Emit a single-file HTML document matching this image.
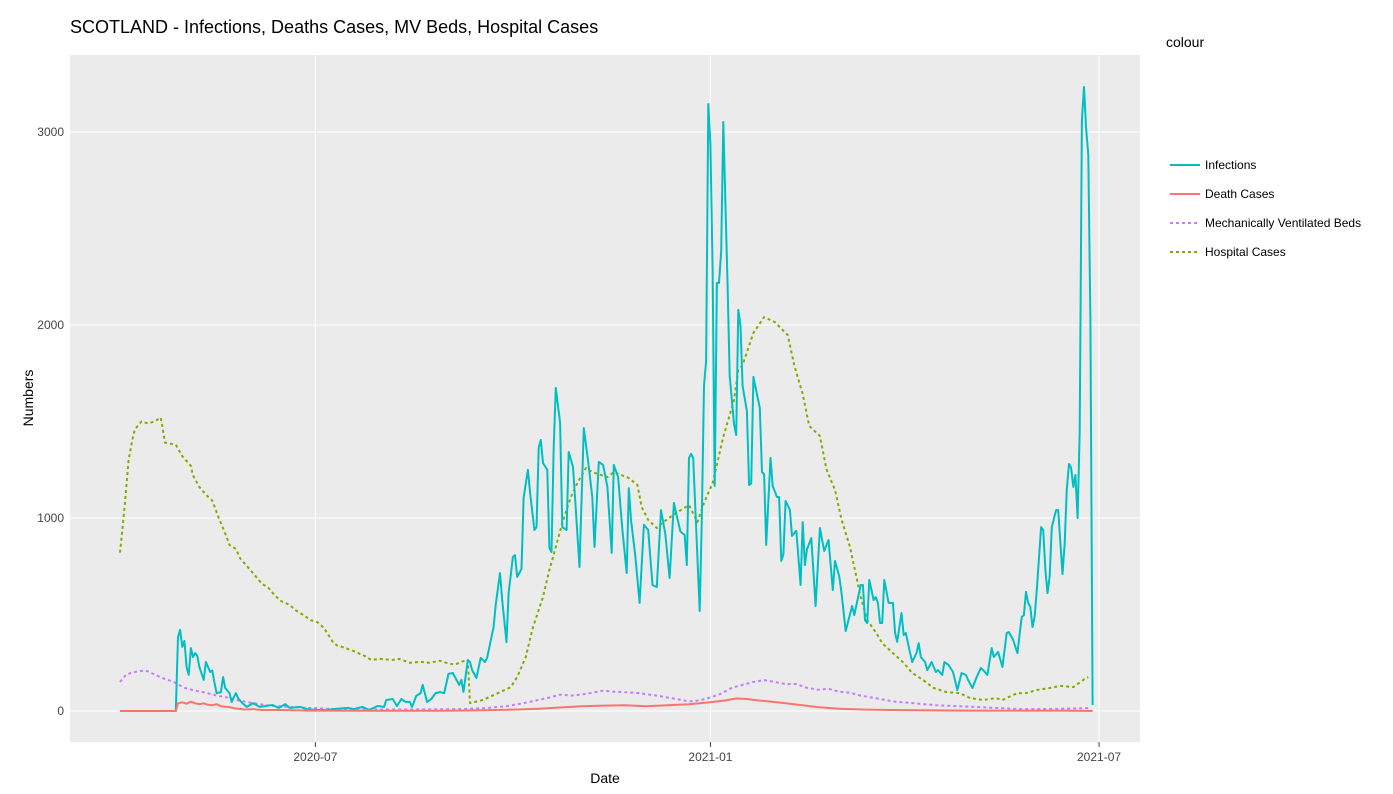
<!DOCTYPE html>
<html><head><meta charset="utf-8">
<style>
body{margin:0;background:#fff;font-family:"Liberation Sans",sans-serif;}
svg{display:block}
text{font-family:"Liberation Sans",sans-serif;}
</style></head>
<body>
<svg id="chart" width="1393" height="794" xmlns="http://www.w3.org/2000/svg">
<text x="70" y="33" font-size="18" fill="#000">SCOTLAND - Infections, Deaths Cases, MV Beds, Hospital Cases</text>
<rect x="70" y="55" width="1070" height="687" fill="#ebebeb"/>
<g id="grid"></g>
<g id="series"></g>
<g id="axes"></g>
<text x="605" y="783" font-size="14" text-anchor="middle" fill="#000">Date</text>
<text x="33" y="398" font-size="14" text-anchor="middle" fill="#000" transform="rotate(-90 33 398)">Numbers</text>
<text x="1166" y="47" font-size="14" fill="#000">colour</text>
<g id="legend"></g>
</svg>
<script>
const yTicks = [0, 1000, 2000, 3000];
const xTickDays = [91, 275, 456];
const xTickLabels = ["2020-07", "2021-01", "2021-07"];
const seriesNames = ["Infections", "Death Cases", "Mechanically Ventilated Beds", "Hospital Cases"];
// days since 2020-04-01
const infDays = [0,26,27,28,29,30,31,32,33,34,35,36,37,39,40,42,43,44,45,47,48,49,51,52,54,55,57,59,62,65,68,71,74,77,79,84,87,92,96,99,106,109,113,116,120,123,124,127,129,131,133,135,136,138,140,141,143,145,147,149,151,153,155,158,159,160,162,163,164,166,168,170,171,174,175,177,178,180,181,183,184,185,187,188,190,191,193,194,195,196,197,199,200,201,202,203,205,206,208,209,211,212,214,216,218,220,221,223,225,227,229,230,232,234,236,237,238,240,242,244,246,248,250,252,254,256,258,259,261,263,264,265,266,267,270,271,272,273,274,275,276,277,278,279,280,281,283,284,286,287,288,289,290,292,293,294,295,298,299,300,301,303,304,306,307,308,309,310,312,313,315,317,318,319,320,322,324,326,328,330,332,333,335,336,338,341,342,345,346,347,348,349,351,352,353,354,355,356,358,360,361,362,364,365,366,368,369,371,372,373,375,376,378,380,381,383,384,386,388,390,392,394,395,397,399,401,402,404,406,407,409,411,413,414,416,418,420,421,422,423,424,425,426,427,429,430,431,432,433,434,436,437,438,439,440,441,442,443,444,445,446,447,448,449,450,451,452,453];
const infVals = [0,0,383,420,332,363,228,187,326,280,300,285,228,161,254,202,210,145,93,98,176,119,93,47,93,67,41,21,41,21,26,31,16,36,16,21,10,5,5,10,16,10,21,5,26,21,57,62,26,62,47,47,21,78,93,135,47,62,93,98,93,192,197,135,161,99,264,254,212,171,275,254,275,435,549,715,575,357,611,798,808,695,736,1104,1249,1130,938,953,1363,1404,1285,1249,845,824,1368,1674,1492,953,938,1342,1265,1093,746,1466,1300,1109,850,1290,1275,1161,819,1275,1212,938,715,1155,990,803,560,964,938,653,642,1041,917,689,1078,1026,930,912,756,1311,1332,1311,518,995,1684,1813,3145,2938,2290,1166,2218,2218,2383,3052,2202,1736,1487,1430,2078,1995,1684,1554,1171,1180,1731,1570,1238,1228,860,1311,1166,1109,1109,777,813,1088,1042,907,933,653,979,756,839,896,544,948,829,886,627,777,699,617,414,544,497,653,653,471,456,679,575,590,560,456,456,679,560,560,404,358,508,394,404,300,254,300,352,280,254,212,254,202,212,187,254,238,202,109,197,187,161,119,176,223,212,187,326,280,306,228,404,409,368,300,487,497,617,560,540,435,487,627,953,938,731,611,700,953,1041,1041,870,710,870,1150,1280,1261,1161,1223,1000,1451,3062,3233,3021,2881,2031,31];
const deathDays = [0,26,27,29,31,33,35,37,39,41,43,45,47,49,51,53,55,58,62,66,75,90,120,150,165,175,185,195,205,215,225,235,245,255,265,275,282,287,292,297,302,310,318,325,335,345,360,380,400,420,440,453];
const deathVals = [0,0,40,45,38,48,40,35,40,32,30,35,25,22,20,15,12,8,10,5,5,2,1,1,3,5,8,12,18,25,28,30,25,30,35,45,55,65,62,55,50,40,30,20,12,8,5,3,2,2,2,0];
const mvDays = [0,3,8,12,15,20,25,30,35,40,45,50,55,60,65,70,80,90,100,120,140,160,170,180,190,200,205,210,215,220,225,230,240,250,260,265,270,275,280,285,290,295,300,305,310,315,320,325,330,335,340,345,350,355,360,370,380,390,400,410,420,430,440,451];
const mvVals = [150,190,205,210,195,170,150,120,105,95,80,70,55,45,35,28,20,15,10,8,8,10,15,25,45,70,85,80,85,95,105,100,95,80,60,50,55,70,90,120,135,150,160,150,140,140,120,110,115,100,95,80,70,60,50,40,30,25,20,15,10,10,12,15];
const hospDays = [0,2,4,6,7,10,13,16,19,21,26,29,33,34,37,41,43,46,49,51,54,56,60,63,66,69,72,75,79,82,85,89,92,95,99,101,104,109,114,117,121,127,130,135,140,144,149,152,156,159,162,163,169,176,182,185,189,192,197,200,203,206,210,213,217,220,227,230,237,241,243,246,250,253,259,265,269,272,276,281,286,288,290,295,300,305,311,314,318,321,326,329,333,336,340,345,348,352,355,360,365,369,374,379,385,391,396,402,408,411,418,422,427,433,438,444,450,451];
const hospVals = [820,1040,1300,1420,1460,1500,1490,1500,1520,1390,1380,1320,1270,1220,1160,1110,1090,1000,920,860,840,790,740,700,660,640,600,570,550,520,500,470,460,430,360,340,330,310,285,265,270,265,270,250,255,250,260,250,240,255,264,41,57,93,124,176,280,420,591,731,850,974,1109,1181,1259,1238,1212,1238,1207,1171,1057,990,948,979,1026,1067,979,1078,1181,1420,1611,1767,1793,1959,2041,2015,1948,1793,1642,1477,1425,1254,1145,995,850,591,471,409,352,300,249,197,161,119,98,93,67,57,67,57,93,93,109,119,130,124,171,175];

const NS = "http://www.w3.org/2000/svg";
const X0 = 120, PXD = 2.147, Y0 = 711, PXV = 0.193;
function xOf(d){ return X0 + d * PXD; }
function yOf(v){ return Y0 - v * PXV; }
function mk(tag, attrs, parent){ const e = document.createElementNS(NS, tag); for (const k in attrs) e.setAttribute(k, attrs[k]); parent.appendChild(e); return e; }

const grid = document.getElementById('grid');
const axes = document.getElementById('axes');
yTicks.forEach(v => {
  const l = mk('line', {x1:70, x2:1140, y1:yOf(v), y2:yOf(v), stroke:'#fff', 'stroke-width':1}, grid);
  
  
  const t = mk('text', {x:64, y:yOf(v)+4, 'font-size':12, 'text-anchor':'end', fill:'#444'}, axes);
  t.textContent = v;
  
  
});
xTickDays.forEach((d, i) => {
  const l = mk('line', {x1:xOf(d), x2:xOf(d), y1:55, y2:742, stroke:'#fff', 'stroke-width':1}, grid);
  
  
  const tk = mk('line', {x1:xOf(d), x2:xOf(d), y1:742, y2:747, stroke:'#444', 'stroke-width':1}, axes);
  
  
  const t = mk('text', {x:xOf(d), y:761, 'font-size':12, 'text-anchor':'middle', fill:'#444'}, axes);
  t.textContent = xTickLabels[i];
  
  
});

const series = document.getElementById('series');
function drawLine(days, vals, color, dash, name){
  let d = '';
  days.forEach((dd, i) => { d += (i ? 'L' : 'M') + xOf(dd).toFixed(1) + ',' + yOf(vals[i]).toFixed(1); });
  const p = mk('path', {d:d, fill:'none', stroke:color, 'stroke-width':2, 'stroke-linejoin':'round'}, series);
  if (dash) p.setAttribute('stroke-dasharray', dash);
  
  
}
drawLine(hospDays, hospVals, '#7CAE00', '3,3', 'hospital-cases-line');
drawLine(mvDays, mvVals, '#C77CFF', '3,3', 'mv-beds-line');
drawLine(infDays, infVals, '#00BFC4', null, 'infections-line');
drawLine(deathDays, deathVals, '#F8766D', null, 'death-cases-line');

const legend = document.getElementById('legend');
const legColors = ['#00BFC4', '#F8766D', '#C77CFF', '#7CAE00'];
const legDash = [null, null, '3,3', '3,3'];
seriesNames.forEach((n, i) => {
  const y = 165 + i * 29;
  const l = mk('line', {x1:1170, x2:1200, y1:y, y2:y, stroke:legColors[i], 'stroke-width':2}, legend);
  if (legDash[i]) l.setAttribute('stroke-dasharray', legDash[i]);
  
  
  const t = mk('text', {x:1205, y:y+4, 'font-size':12, fill:'#000'}, legend);
  t.textContent = n;
  
  
});
</script>
</body></html>
